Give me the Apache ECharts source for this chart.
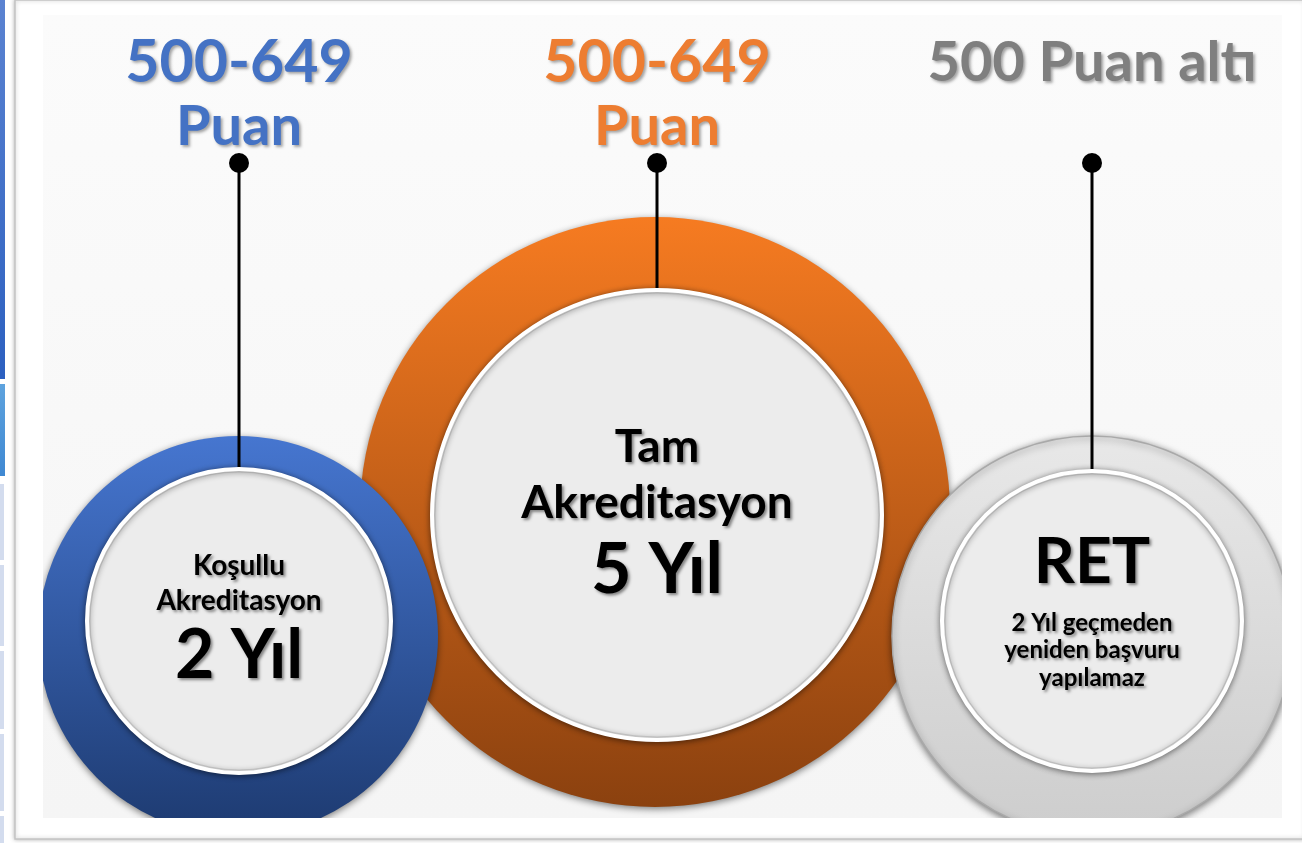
<!DOCTYPE html>
<html><head><meta charset="utf-8">
<script src="https://cdn.jsdelivr.net/npm/echarts@6/dist/echarts.min.js"></script>
<style>html,body{margin:0;padding:0;background:#fff;overflow:hidden}#c{width:1302px;height:843px;}</style>
</head><body><div id="c"></div>
<script>
// ---- content (text) ----
const categories  = ['Koşullu\nAkreditasyon', 'Tam\nAkreditasyon', 'RET'];
const scoreRanges = ['500-649\nPuan', '500-649\nPuan', '500 Puan altı'];
const periods     = ['2 Yıl', '5 Yıl', '2 Yıl geçmeden\nyeniden başvuru\nyapılamaz'];
const drawOrder   = [1, 0, 2];   // orange ring sits behind the other two

// ---- layout / style (axis units = page pixels) ----
const FONT = 'Lato, "Open Sans", sans-serif';
const layout = [
  { cx: 238, cy: 636, r: 200, icx: 239, icy: 621, ir: 152, dotY: 163,
    head: { ys: [63, 127], sizes: [59, 56], color: '#4472c4' },
    ring: ['#4676d0', '#1d3a70'], ringStroke: null,
    inner: [ { src: 'category', size: 28, ys: [566, 601] }, { src: 'period', size: 68, ys: [656] } ] },
  { cx: 655, cy: 512, r: 295, icx: 657, icy: 515, ir: 225, dotY: 163,
    head: { ys: [63, 127], sizes: [59, 56], color: '#ed7d31' },
    ring: ['#f67b21', '#8b410f'], ringStroke: null,
    inner: [ { src: 'category', size: 46, ys: [447, 503] }, { src: 'period', size: 70, ys: [570] } ] },
  { cx: 1092, cy: 636, r: 200, icx: 1092, icy: 621, ir: 150, dotY: 163,
    head: { ys: [63], sizes: [56], color: '#7f7f7f' },
    ring: ['#e8e8e8', '#cdcdcd'], ringStroke: '#a9a9a9',
    inner: [ { src: 'category', size: 64, ys: [562] }, { src: 'period', size: 24, ys: [623, 650, 678] } ] }
];

function textEl(x, y, str, size, color, shadow) {
  return { type: 'text', x: x, y: y, z2: 20,
    style: { text: str, fill: color, font: 'bold ' + size + 'px ' + FONT,
      align: 'center', verticalAlign: 'middle',
      textShadowColor: shadow, textShadowBlur: 3, textShadowOffsetX: 2, textShadowOffsetY: 2 } };
}

function renderItem(params, api) {
  const i = api.value(0);
  const L = layout[i];
  const src = { category: categories[i], period: periods[i] };
  const o = api.coord([L.cx, L.cy]);
  const R = api.size([L.r, L.r])[0];
  const ic = api.coord([L.icx, L.icy]);
  const IR = api.size([L.ir, L.ir])[0];
  const dot = api.coord([L.icx, L.dotY]);
  const ch = [];
  ch.push({ type: 'circle', z2: 1, shape: { cx: o[0], cy: o[1], r: R },
    style: { fill: new echarts.graphic.LinearGradient(0, 0, 0, 1, [{ offset: 0, color: L.ring[0] }, { offset: 1, color: L.ring[1] }]),
      stroke: L.ringStroke, lineWidth: L.ringStroke ? 1.5 : 0,
      shadowBlur: 7, shadowColor: 'rgba(0,0,0,0.5)', shadowOffsetY: 2 } });
  ch.push({ type: 'circle', z2: 2, shape: { cx: ic[0], cy: ic[1], r: IR },
    style: { fill: '#ececec', stroke: '#ffffff', lineWidth: 4,
      shadowBlur: 6, shadowColor: 'rgba(0,0,0,0.45)', shadowOffsetY: 1 } });
  ch.push({ type: 'circle', z2: 3, shape: { cx: ic[0], cy: ic[1], r: IR - 3 },
    style: { fill: null, stroke: 'rgba(0,0,0,0.10)', lineWidth: 1 } });
  ch.push({ type: 'line', z2: 4, shape: { x1: dot[0], y1: dot[1], x2: ic[0], y2: ic[1] - IR - 2 },
    style: { stroke: '#000', lineWidth: 3 } });
  ch.push({ type: 'circle', z2: 5, shape: { cx: dot[0], cy: dot[1], r: 10 }, style: { fill: '#000' } });
  const headLines = scoreRanges[i].split('\n');
  headLines.forEach(function (t, k) {
    const p = api.coord([L.icx, L.head.ys[k]]);
    ch.push(textEl(p[0], p[1], t, L.head.sizes[k], L.head.color, 'rgba(0,0,0,0.35)'));
  });
  L.inner.forEach(function (blk) {
    const lines = src[blk.src].split('\n');
    lines.forEach(function (t, k) {
      const p = api.coord([L.icx, blk.ys[k]]);
      ch.push(textEl(p[0], p[1], t, blk.size, '#000', 'rgba(0,0,0,0.45)'));
    });
  });
  return { type: 'group', children: ch };
}

const chart = echarts.init(document.getElementById('c'), null, { renderer: 'canvas' });
const leftCells = [];
[[484, 560], [565, 646], [651, 729], [734, 811], [816, 843]].forEach(function (c) {
  leftCells.push({ type: 'rect', z: -10, shape: { x: 0, y: c[0], width: 4, height: c[1] - c[0] }, style: { fill: '#d3dcee' } });
});
chart.setOption({
  animation: false,
  backgroundColor: '#ffffff',
  graphic: { elements: [
    { type: 'rect', z: -10, shape: { x: 0, y: 0, width: 5, height: 379 },
      style: { fill: new echarts.graphic.LinearGradient(0, 0, 0, 1, [{ offset: 0, color: '#5b83d1' }, { offset: 1, color: '#2c60c0' }]) } },
    { type: 'rect', z: -10, shape: { x: 0, y: 384, width: 5, height: 92 },
      style: { fill: new echarts.graphic.LinearGradient(0, 0, 0, 1, [{ offset: 0, color: '#5ea3de' }, { offset: 1, color: '#3f88d2' }]) } }
  ].concat(leftCells).concat([
    { type: 'rect', z: -10, shape: { x: 15, y: 0, width: 1290, height: 839 },
      style: { fill: '#ffffff', stroke: '#c4c4c4', lineWidth: 1.5, shadowBlur: 4, shadowColor: 'rgba(0,0,0,0.25)' } },
    { type: 'rect', z: -9, shape: { x: 43, y: 15, width: 1239, height: 803 },
      style: { fill: new echarts.graphic.LinearGradient(0, 0, 0, 1, [{ offset: 0, color: '#fbfbfb' }, { offset: 1, color: '#f5f5f5' }]) } }
  ]) },
  grid: { left: 43, top: 15, width: 1239, height: 803, show: false },
  xAxis: { type: 'value', min: 43, max: 1282, show: false },
  yAxis: { type: 'value', min: 15, max: 818, inverse: true, show: false },
  series: [{
    type: 'custom', clip: true, coordinateSystem: 'cartesian2d',
    renderItem: renderItem,
    data: drawOrder.map(function (i) { return [i]; }),
    encode: { x: -1, y: -1 }
  }]
});
</script></body></html>
